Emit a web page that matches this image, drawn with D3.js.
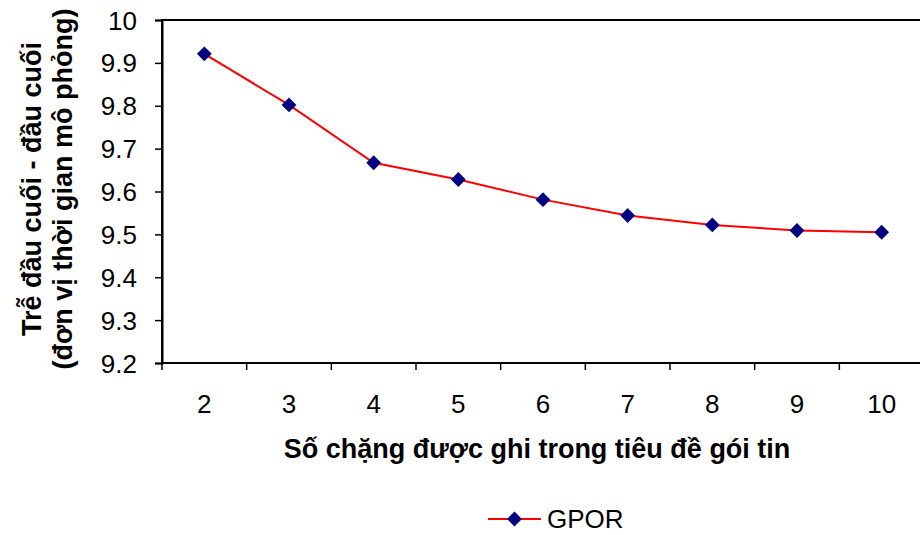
<!DOCTYPE html>
<html>
<head>
<meta charset="utf-8">
<script src="https://cdn.jsdelivr.net/npm/d3@7"></script>
<style>
  body { margin: 0; background: #fff; }
  svg text { font-family: "Liberation Sans", Arial, sans-serif; fill: #000; }
</style>
</head>
<body>
<svg id="chart" width="920" height="535"></svg>
<script>
// Hop counts recorded in the packet header, and resulting end-to-end delay
const hops = [2, 3, 4, 5, 6, 7, 8, 9, 10];
const gporDelay = [9.921, 9.802, 9.667, 9.628, 9.581, 9.544, 9.522, 9.509, 9.505];
const yTicks = [9.2, 9.3, 9.4, 9.5, 9.6, 9.7, 9.8, 9.9, 10];
const seriesName = "GPOR";
const xTitle = "Số chặng được ghi trong tiêu đề gói tin";
const yTitleLines = ["Trễ đầu cuối - đầu cuối", "(đơn vị thời gian mô phỏng)"];

const svg = d3.select("#chart");
const plot = { left: 162, top: 20, right: 924, bottom: 363 };
const fs = 26;
const titleFs = 27;

const x = d3.scaleBand().domain(hops).range([plot.left, plot.right]);
const y = d3.scaleLinear().domain([9.2, 10]).range([plot.bottom, plot.top]);

// Plot frame (right edge falls outside the canvas)
svg.append("rect")
  .attr("x", plot.left).attr("y", plot.top)
  .attr("width", plot.right - plot.left).attr("height", plot.bottom - plot.top)
  .attr("fill", "none").attr("stroke", "#000").attr("stroke-width", 2);

// Y axis
const yAxis = svg.append("g")
  .attr("transform", `translate(${plot.left},0)`)
  .call(d3.axisLeft(y).tickValues(yTicks).tickSize(7).tickPadding(18)
    .tickFormat(d => d3.format("")(+d.toFixed(1))));
yAxis.select(".domain").attr("stroke-width", 2);
yAxis.selectAll(".tick line").attr("stroke-width", 1.5);
yAxis.selectAll("text").attr("font-size", fs).attr("dy", "0.35em");

// X axis: ticks at band boundaries, labels at band centers
const xAxis = svg.append("g").attr("transform", `translate(0,${plot.bottom})`);
xAxis.append("line")
  .attr("x1", plot.left).attr("x2", plot.right)
  .attr("stroke", "#000").attr("stroke-width", 2);
const bounds = hops.map(h => x(h)).concat([plot.right]);
xAxis.selectAll(".xt").data(bounds).join("line")
  .attr("x1", d => d).attr("x2", d => d)
  .attr("y1", 0).attr("y2", 7)
  .attr("stroke", "#000").attr("stroke-width", 1.5);
xAxis.selectAll(".xl").data(hops).join("text")
  .attr("x", d => x(d) + x.bandwidth() / 2)
  .attr("y", 50)
  .attr("text-anchor", "middle")
  .attr("font-size", fs)
  .text(d => d);

// Axis titles
svg.append("text")
  .attr("x", 537).attr("y", 458)
  .attr("text-anchor", "middle")
  .attr("font-size", titleFs).attr("font-weight", "bold")
  .text(xTitle);

const yTitle = svg.append("text")
  .attr("transform", "translate(41,189) rotate(-90)")
  .attr("text-anchor", "middle")
  .attr("font-size", titleFs).attr("font-weight", "bold");
yTitleLines.forEach((t, i) => {
  yTitle.append("tspan").attr("x", 0).attr("dy", i === 0 ? 0 : 31).text(t);
});

// Series line and markers
const pts = hops.map((h, i) => [x(h) + x.bandwidth() / 2, y(gporDelay[i])]);
svg.append("path")
  .attr("d", d3.line()(pts))
  .attr("fill", "none").attr("stroke", "#ff0000").attr("stroke-width", 2);

const diamond = d3.symbol().type(d3.symbolSquare).size(110);
svg.selectAll(".mk").data(pts).join("path")
  .attr("transform", d => `translate(${d[0]},${d[1]}) rotate(45)`)
  .attr("d", diamond())
  .attr("fill", "#000080");

// Legend
const lg = svg.append("g").attr("transform", "translate(488,519)");
lg.append("line").attr("x1", 0).attr("x2", 53)
  .attr("stroke", "#ff0000").attr("stroke-width", 2);
lg.append("path").attr("transform", "translate(26.5,0) rotate(45)")
  .attr("d", diamond()).attr("fill", "#000080");
lg.append("text").attr("x", 59).attr("y", 0).attr("dy", "0.35em")
  .attr("font-size", fs).text(seriesName);
</script>
</body>
</html>
